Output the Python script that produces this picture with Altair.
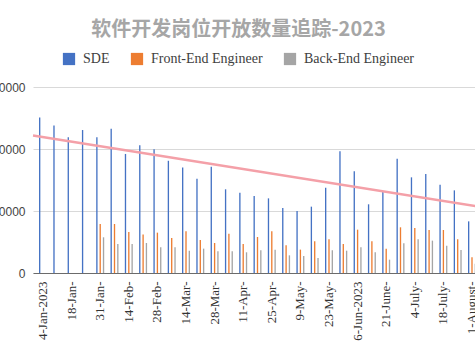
import altair as alt
import pandas as pd

categories = [
    "4-Jan-2023", "11-Jan-", "18-Jan-", "25-Jan-", "31-Jan-", "7-Feb-", "14-Feb-",
    "21-Feb-", "28-Feb-", "7-Mar-", "14-Mar-", "21-Mar-", "28-Mar-", "4-Apr-",
    "11-Apr-", "18-Apr-", "25-Apr-", "2-May-", "9-May-", "16-May-", "23-May-",
    "30-May-", "6-Jun-2023", "13-June-", "21-June-", "27-June-", "4-July-",
    "11-July-", "18-July-", "25-July-", "1-August-",
]
sde = [
    25100, 23800, 21900, 23060, 21900, 23280, 19200, 20600, 19950, 18100, 17000,
    15200, 17150, 13500, 12950, 12400, 12040, 10480, 10000, 10700, 13760, 19620,
    16400, 11080, 13060, 18440, 15430, 15970, 14250, 13330, 8330,
]
front_end = [
    None, None, None, None, 7900, 7900, 6620, 6190, 6510, 5650, 6720, 5330, 4840,
    6350, 4680, 5810, 6720, 4470, 3770, 5110, 5430, 4680, 6990, 5110, 3930, 7370,
    7260, 6940, 6940, 5430, 2530,
]
back_end = [
    None, None, None, None, 5760, 4680, 4680, 4840, 4140, 4140, 3600, 3930, 3500,
    3500, 3340, 3660, 3770, 2850, 2740, 2420, 3660, 3600, 4140, 3340, 2150, 4790,
    5430, 5220, 4410, 3710, 1500,
]
series_names = ["SDE", "Front-End Engineer", "Back-End Engineer"]
series_colors = ["#4472c4", "#ed7d31", "#a5a5a5"]
y_ticks = [0, 10000, 20000, 30000]
title_text = "软件开发岗位开放数量追踪-2023"

rows = []
for i, c in enumerate(categories):
    for name, vals in zip(series_names, [sde, front_end, back_end]):
        if vals[i] is not None:
            rows.append({"date": c, "idx": i, "series": name, "value": vals[i]})
df = pd.DataFrame(rows)

x_lo, x_hi = -0.7, 30.7

y_axis = alt.Axis(
    values=y_ticks, format="d", title=None, ticks=False, domain=False,
    labelPadding=8, gridColor="#d9d9d9", labelFont="Liberation Sans",
    labelFontSize=12, labelColor="#444444", grid=True,
)
y_scale = alt.Scale(domain=[0, 30000], nice=False)

bars = alt.Chart(df).mark_bar().encode(
    x=alt.X(
        "date:N",
        sort=categories,
        scale=alt.Scale(paddingInner=0, paddingOuter=0.2),
        axis=alt.Axis(
            values=categories[::2], labelAngle=-90, title=None, ticks=False,
            labelPadding=8, labelFont="Liberation Serif", labelFontSize=13,
            labelColor="#333333", domainColor="#6b6b6b", grid=False,
            labelOverlap=False,
        ),
    ),
    xOffset=alt.XOffset(
        "series:N", sort=series_names,
        scale=alt.Scale(paddingInner=0.6, paddingOuter=0.95),
    ),
    y=alt.Y("value:Q", scale=y_scale, axis=y_axis),
    color=alt.Color(
        "series:N",
        sort=series_names,
        scale=alt.Scale(domain=series_names, range=series_colors),
        legend=alt.Legend(
            orient="none", legendX=29, legendY=-35, direction="horizontal",
            title=None, symbolType="square", symbolSize=150, symbolStrokeWidth=0,
            labelFont="Liberation Serif", labelFontSize=14, labelColor="#404040",
            columnPadding=20, labelOffset=7, padding=0,
        ),
    ),
)

trend = (
    alt.Chart(df)
    .transform_filter(alt.datum.series == "SDE")
    .transform_regression("idx", "value", extent=[x_lo, x_hi])
    .mark_line(color="#f4a0a8", strokeWidth=2.5)
    .encode(
        x=alt.X("idx:Q", scale=alt.Scale(domain=[x_lo, x_hi], nice=False, zero=False), axis=None),
        y=alt.Y("value:Q", scale=y_scale, axis=y_axis),
    )
)

chart = (
    alt.layer(bars, trend)
    .resolve_scale(x="independent")
    .properties(
        width=449,
        height=186,
        padding={"left": 33, "top": 87, "right": -7, "bottom": 83},
        autosize=alt.AutoSizeParams(type="none"),
        title=alt.Title(
            text=title_text, font="Noto Sans CJK SC", fontSize=20,
            fontWeight="bold", color="#a6a6a6", anchor="middle", dx=-19, offset=12,
        ),
    )
    .configure_view(strokeWidth=0)
)

chart.save("out.html", embed_options={"renderer": "svg", "actions": False})
